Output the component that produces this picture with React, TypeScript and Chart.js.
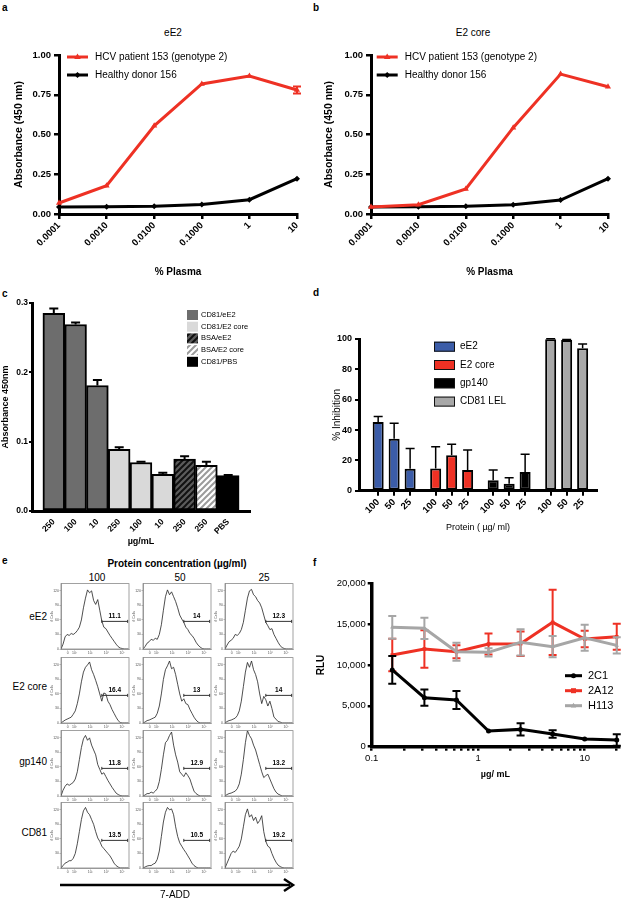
import React, { useEffect, useRef } from 'react';
import { Chart, registerables } from 'chart.js';

Chart.register(...registerables);

const FONT = '"Liberation Sans", Arial, Helvetica, sans-serif';
const RED = '#ee3124';

// ---------- panels a / b ----------
const plasmaLabels = ['0.0001', '0.0010', '0.0100', '0.1000', '1', '10'];
const abSeries = ['HCV patient 153 (genotype 2)', 'Healthy donor 156'];
const aPatient = [0.069, 0.178, 0.555, 0.818, 0.868, 0.78];
const aPatientErr = [0, 0, 0, 0, 0, 0.022];
const aDonor = [0.044, 0.045, 0.048, 0.06, 0.09, 0.222];
const bPatient = [0.044, 0.058, 0.157, 0.543, 0.88, 0.8];
const bPatientErr = [0, 0, 0, 0, 0, 0];
const bDonor = [0.044, 0.045, 0.048, 0.058, 0.088, 0.222];
const abYTicks = [0, 0.25, 0.5, 0.75, 1];

// ---------- panel c ----------
const cSlots = [1, 2, 3, 4, 5, 6, 7, 8, 9];
const cLabels = ['250', '100', '10', '250', '100', '10', '250', '250', 'PBS'];
const cValues = [0.285, 0.269, 0.181, 0.089, 0.07, 0.053, 0.075, 0.066, 0.051];
const cErrors = [0.007, 0.003, 0.008, 0.003, 0.001, 0.002, 0.004, 0.005, 0.001];
const cGroup = [0, 0, 0, 1, 1, 1, 2, 3, 4];
const cLegend = ['CD81/eE2', 'CD81/E2 core', 'BSA/eE2', 'BSA/E2 core', 'CD81/PBS'];
const cYTicks = [0, 0.1, 0.2, 0.3];

// ---------- panel d ----------
const dSlots = [1, 2, 3, 4.6, 5.6, 6.6, 8.2, 9.2, 10.2, 11.8, 12.8, 13.8];
const dLabels = ['100', '50', '25', '100', '50', '25', '100', '50', '25', '100', '50', '25'];
const dValues = [45.3, 34.2, 14.5, 14.7, 23.4, 13.6, 6.9, 4.5, 12.3, 99.9, 99.3, 93.9];
const dErrors = [3.6, 10.3, 13.3, 14.2, 7.3, 13.3, 6.7, 4.0, 11.7, 0.3, 0.4, 2.8];
const dGroup = [0, 0, 0, 1, 1, 1, 2, 2, 2, 3, 3, 3];
const dLegend = ['eE2', 'E2 core', 'gp140', 'CD81 LEL'];
const dYTicks = [0, 20, 40, 60, 80, 100];

// ---------- panel e ----------
const eColumns = ['100', '50', '25'];
const eRows = ['eE2', 'E2 core', 'gp140', 'CD81'];
const eGateValues = [
  ['11.1', '14', '12.3'],
  ['16.4', '13', '14'],
  ['11.8', '12.9', '13.2'],
  ['13.5', '10.5', '19.2'],
];
const histBins = [0, 3, 6, 9, 12, 15, 18, 21, 24, 27, 30, 33, 36, 39, 42, 45, 48, 51, 54, 57, 60, 63, 66, 69, 72, 75, 78, 81, 84, 87, 90, 93, 96, 99];
const hEE2_100 = [0, 10, 25, 30, 28, 32, 30, 33, 38, 45, 60, 85, 105, 122, 116, 120, 100, 92, 102, 80, 58, 45, 42, 35, 28, 22, 16, 10, 5, 2, 1, 0, 0, 0];
const hEE2_50 = [0, 5, 12, 15, 20, 18, 22, 20, 30, 50, 80, 108, 122, 112, 118, 108, 98, 85, 70, 62, 55, 45, 40, 32, 28, 22, 14, 8, 4, 1, 0, 0, 0, 0];
const hEE2_25 = [0, 8, 15, 18, 22, 30, 28, 32, 40, 55, 80, 105, 120, 123, 112, 108, 100, 95, 85, 70, 55, 48, 40, 42, 30, 22, 14, 7, 3, 1, 0, 0, 0, 0];
const hCore_100 = [0, 3, 6, 8, 10, 12, 18, 25, 40, 60, 85, 105, 115, 120, 126, 110, 100, 88, 75, 60, 45, 62, 60, 45, 38, 28, 20, 12, 5, 1, 0, 0, 0, 0];
const hCore_50 = [0, 2, 5, 6, 8, 10, 12, 20, 35, 60, 90, 110, 118, 128, 112, 115, 100, 80, 60, 45, 50, 40, 38, 28, 20, 12, 6, 2, 0, 0, 0, 0, 0, 0];
const hCore_25 = [0, 3, 5, 6, 8, 10, 15, 25, 45, 75, 105, 125, 115, 128, 110, 100, 85, 60, 40, 55, 48, 35, 45, 30, 12, 8, 3, 2, 0, 0, 0, 0, 0, 0];
const hGp_100 = [0, 12, 20, 25, 22, 25, 28, 35, 50, 75, 100, 118, 125, 115, 120, 105, 95, 85, 65, 55, 45, 48, 40, 32, 25, 18, 12, 6, 3, 1, 0, 0, 0, 0];
const hGp_50 = [0, 2, 5, 5, 8, 6, 10, 15, 30, 55, 85, 110, 115, 125, 132, 105, 85, 70, 50, 45, 40, 48, 42, 35, 22, 10, 5, 2, 0, 0, 0, 0, 0, 0];
const hGp_25 = [0, 3, 5, 6, 8, 10, 15, 25, 45, 75, 110, 135, 125, 118, 105, 95, 80, 65, 50, 38, 42, 45, 35, 25, 15, 8, 4, 2, 0, 0, 0, 0, 0, 0];
const hCd_100 = [0, 5, 10, 12, 15, 15, 20, 30, 50, 75, 100, 118, 125, 115, 110, 100, 90, 75, 62, 55, 45, 40, 35, 30, 25, 18, 10, 5, 2, 0, 0, 0, 0, 0];
const hCd_50 = [0, 2, 4, 5, 5, 8, 10, 18, 35, 65, 95, 115, 125, 120, 122, 110, 85, 65, 52, 45, 38, 32, 25, 18, 10, 5, 2, 0, 0, 0, 0, 0, 0, 0];
const hCd_25 = [0, 10, 20, 30, 35, 32, 38, 45, 60, 85, 110, 122, 105, 110, 98, 105, 92, 98, 108, 75, 55, 45, 42, 30, 20, 12, 6, 3, 1, 0, 0, 0, 0, 0];
const eHistograms = [
  [hEE2_100, hEE2_50, hEE2_25],
  [hCore_100, hCore_50, hCore_25],
  [hGp_100, hGp_50, hGp_25],
  [hCd_100, hCd_50, hCd_25],
];
const cellYTicks = [0, 30, 60, 90, 120];
const cellXTicks = [10, 20, 43, 67, 90];
const cellXLabels = ['0', '10²', '10³', '10⁴', '10⁵'];
const gateRange = [60, 98];
const gateLevel = 57;

// ---------- panel f ----------
const fConc = [0.156, 0.3125, 0.625, 1.25, 2.5, 5, 10, 20];
const f2C1 = [9400, 6000, 5720, 1920, 2120, 1550, 940, 810];
const f2C1Err = [1700, 1000, 1100, 0, 750, 450, 0, 700];
const f2A12 = [11220, 11960, 11630, 12570, 12600, 15220, 13180, 13460];
const f2A12Err = [2000, 2300, 800, 1300, 1500, 4000, 1000, 1600];
const fH113 = [14610, 14490, 11630, 11550, 12770, 12240, 13340, 12400];
const fH113Err = [1400, 1300, 1100, 500, 1600, 1300, 1600, 1000];
const fSeries = ['2C1', '2A12', 'H113'];
const fYTicks = [0, 5000, 10000, 15000, 20000];
const fXTicks = [0.1, 0.2, 0.3, 0.4, 0.5, 0.6, 0.7, 0.8, 0.9, 1, 2, 3, 4, 5, 6, 7, 8, 9, 10, 20];
const fXLabeled = [0.1, 1, 10];

// ---------- helpers ----------
const font = (size: number, weight: string = 'normal') => ({ family: FONT, size, weight });

function drawMarker(ctx: CanvasRenderingContext2D, kind: string, cx: number, cy: number, r: number, color: string) {
  ctx.save();
  ctx.fillStyle = color;
  ctx.beginPath();
  if (kind === 'triangle') {
    ctx.moveTo(cx, cy - r * 1.2);
    ctx.lineTo(cx + r * 1.1, cy + r * 0.7);
    ctx.lineTo(cx - r * 1.1, cy + r * 0.7);
  } else if (kind === 'rectRot') {
    ctx.moveTo(cx, cy - r);
    ctx.lineTo(cx + r, cy);
    ctx.lineTo(cx, cy + r);
    ctx.lineTo(cx - r, cy);
  } else if (kind === 'rect') {
    ctx.rect(cx - r, cy - r, 2 * r, 2 * r);
  } else {
    ctx.arc(cx, cy, r, 0, Math.PI * 2);
  }
  ctx.closePath();
  ctx.fill();
  ctx.restore();
}

function hatch(bg: string, fg: string, lw: number): CanvasPattern | string {
  const c = document.createElement('canvas');
  c.width = 6;
  c.height = 6;
  const x = c.getContext('2d');
  if (!x) return bg;
  x.fillStyle = bg;
  x.fillRect(0, 0, 6, 6);
  x.strokeStyle = fg;
  x.lineWidth = lw;
  x.beginPath();
  x.moveTo(0, 6); x.lineTo(6, 0);
  x.moveTo(-3, 3); x.lineTo(3, -3);
  x.moveTo(3, 9); x.lineTo(9, 3);
  x.stroke();
  return x.createPattern(c, 'repeat') || bg;
}

type ErrSet = { dataset: number; errors: number[]; color: string; width: number; cap: number; both: boolean };

function makeErr(sets: ErrSet[]) {
  return {
    id: 'errbars',
    afterDatasetDraw(chart: any, args: any) {
      const set = sets.find((s) => s.dataset === args.index);
      if (!set) return;
      const meta = args.meta;
      const ys = chart.scales[meta.yAxisID];
      const ctx: CanvasRenderingContext2D = chart.ctx;
      ctx.save();
      ctx.strokeStyle = set.color;
      ctx.lineWidth = set.width;
      meta.data.forEach((el: any, i: number) => {
        const e = set.errors[i];
        if (!e) return;
        const raw = chart.data.datasets[args.index].data[i];
        const v = typeof raw === 'number' ? raw : raw.y;
        const x = el.x;
        const yTop = ys.getPixelForValue(v + e);
        const yBot = set.both ? ys.getPixelForValue(v - e) : ys.getPixelForValue(v);
        const hw = set.cap / 2;
        ctx.beginPath();
        ctx.moveTo(x, yBot);
        ctx.lineTo(x, yTop);
        ctx.moveTo(x - hw, yTop);
        ctx.lineTo(x + hw, yTop);
        if (set.both) {
          ctx.moveTo(x - hw, yBot);
          ctx.lineTo(x + hw, yBot);
        }
        ctx.stroke();
      });
      ctx.restore();
    },
  };
}

type KeyOpts = {
  labels: string[];
  fills: any[];
  kind: 'line' | 'box';
  markers?: string[];
  x: number;
  y: number;
  gap: number;
  w: number;
  h: number;
  textX: number;
  fontSize: number;
  lineWidth?: number;
  markerSize?: number;
  stroke?: string;
};

function makeKey(o: KeyOpts) {
  return {
    id: 'inkey',
    afterDraw(chart: any) {
      const ctx: CanvasRenderingContext2D = chart.ctx;
      ctx.save();
      o.labels.forEach((label, i) => {
        const y = o.y + i * o.gap;
        const fill = o.fills[i];
        if (o.kind === 'line') {
          ctx.strokeStyle = fill;
          ctx.lineWidth = o.lineWidth || 3;
          ctx.beginPath();
          ctx.moveTo(o.x, y);
          ctx.lineTo(o.x + o.w, y);
          ctx.stroke();
          drawMarker(ctx, (o.markers || [])[i] || 'circle', o.x + o.w / 2, y, o.markerSize || 3, fill);
        } else {
          ctx.fillStyle = fill;
          ctx.fillRect(o.x, y - o.h / 2, o.w, o.h);
          if (o.stroke) {
            ctx.strokeStyle = o.stroke;
            ctx.lineWidth = 1;
            ctx.strokeRect(o.x + 0.5, y - o.h / 2 + 0.5, o.w - 1, o.h - 1);
          }
        }
        ctx.fillStyle = '#000';
        ctx.font = `${o.fontSize}px ${FONT}`;
        ctx.textBaseline = 'middle';
        ctx.textAlign = 'left';
        ctx.fillText(label, o.textX, y);
      });
      ctx.restore();
    },
  };
}

function makeCellDeco(label: string) {
  return {
    id: 'celldeco',
    afterDraw(chart: any) {
      const ctx: CanvasRenderingContext2D = chart.ctx;
      const a = chart.chartArea;
      const xs = chart.scales.x;
      const ys = chart.scales.y;
      ctx.save();
      ctx.strokeStyle = '#8a8a8a';
      ctx.lineWidth = 0.8;
      ctx.strokeRect(a.left, a.top, a.right - a.left, a.bottom - a.top);
      const x0 = xs.getPixelForValue(gateRange[0]);
      const x1 = xs.getPixelForValue(gateRange[1]);
      const y = ys.getPixelForValue(gateLevel);
      ctx.strokeStyle = '#333';
      ctx.lineWidth = 1;
      ctx.beginPath();
      ctx.moveTo(x0, y);
      ctx.lineTo(x1, y);
      ctx.moveTo(x0, y - 1.5);
      ctx.lineTo(x0, y + 1.5);
      ctx.moveTo(x1, y - 1.5);
      ctx.lineTo(x1, y + 1.5);
      ctx.stroke();
      ctx.fillStyle = '#000';
      ctx.font = `bold 6.5px ${FONT}`;
      ctx.textAlign = 'center';
      ctx.textBaseline = 'bottom';
      ctx.fillText(label, (x0 + x1) / 2, y - 2);
      ctx.restore();
    },
  };
}

const tickGrid = (len: number, w: number) => ({
  display: true,
  drawOnChartArea: false,
  drawTicks: true,
  tickLength: len,
  color: '#000',
  lineWidth: w,
  offset: false,
});
const axisBorder = (w: number) => ({ display: true, color: '#000', width: w });
const basePlugins = { legend: { display: false }, tooltip: { enabled: false } };

function abConfig(patient: number[], patientErr: number[], donor: number[], yWidth: number, rightPad: number, keyX: number) {
  return {
    type: 'line',
    data: {
      labels: plasmaLabels,
      datasets: [
        { label: abSeries[0], data: patient, borderColor: RED, backgroundColor: RED, borderWidth: 3, pointStyle: 'triangle', pointRadius: 3.5, pointBorderWidth: 0, clip: false },
        { label: abSeries[1], data: donor, borderColor: '#000', backgroundColor: '#000', borderWidth: 3, pointStyle: 'rectRot', pointRadius: 3, pointBorderWidth: 0, clip: false },
      ],
    },
    options: {
      responsive: false,
      animation: false,
      events: [],
      layout: { padding: { left: 0, top: 35, right: rightPad, bottom: 0 } },
      scales: {
        x: {
          type: 'category',
          offset: false,
          border: axisBorder(3),
          grid: tickGrid(5, 2.5),
          ticks: { font: font(9.5, 'bold'), color: '#000', minRotation: 45, maxRotation: 45, padding: 1, autoSkip: false },
          title: { display: true, text: '% Plasma', font: font(10, 'bold'), color: '#000', padding: { top: 0, bottom: 17 } },
          afterFit: (s: any) => { s.height = 81; },
        },
        y: {
          min: 0,
          max: 1,
          afterBuildTicks: (s: any) => { s.ticks = abYTicks.map((v) => ({ value: v })); },
          border: axisBorder(3),
          grid: tickGrid(5, 2.5),
          ticks: { font: font(9.5, 'bold'), color: '#000', padding: 3, callback: (v: any) => Number(v).toFixed(2) },
          title: { display: true, text: 'Absorbance (450 nm)', font: font(10.5, 'bold'), color: '#000', padding: { top: 13, bottom: 0 } },
          afterFit: (s: any) => { s.width = yWidth; },
        },
      },
      plugins: basePlugins,
    },
    plugins: [
      makeErr([{ dataset: 0, errors: patientErr, color: RED, width: 2, cap: 8, both: true }]),
      makeKey({ labels: abSeries, fills: [RED, '#000'], kind: 'line', markers: ['triangle', 'rectRot'], x: keyX, y: 37, gap: 18, w: 21, h: 0, textX: keyX + 28, fontSize: 10, lineWidth: 3, markerSize: 3 }),
    ],
  };
}

function cConfig() {
  const fills = ['#6d6d6d', '#d9d9d9', hatch('#5c5c5c', '#111', 2), hatch('#ffffff', '#9b9b9b', 2), '#000'];
  return {
    type: 'bar',
    data: {
      datasets: [
        {
          data: cSlots.map((x, i) => ({ x, y: cValues[i] })),
          backgroundColor: cGroup.map((g) => fills[g]),
          borderColor: '#000',
          borderWidth: 2,
          borderSkipped: false,
          categoryPercentage: 1,
          barPercentage: 1,
        },
      ],
    },
    options: {
      responsive: false,
      animation: false,
      events: [],
      layout: { padding: { left: 0, top: 8, right: 60, bottom: 0 } },
      scales: {
        x: {
          type: 'linear',
          offset: false,
          min: 0,
          max: 10,
          afterBuildTicks: (s: any) => { s.ticks = cSlots.map((v) => ({ value: v })); },
          border: axisBorder(3),
          grid: { display: false, drawTicks: false, offset: false },
          ticks: { autoSkip: false, minRotation: 45, maxRotation: 45, padding: 6, font: font(8.5, 'bold'), color: '#000', callback: (_v: any, i: number) => cLabels[i] },
          title: { display: true, text: 'µg/mL', font: font(9, 'bold'), color: '#000', padding: { top: 0, bottom: 7.6 } },
          afterFit: (s: any) => { s.height = 44; },
        },
        y: {
          min: 0,
          max: 0.3,
          afterBuildTicks: (s: any) => { s.ticks = cYTicks.map((v) => ({ value: v })); },
          border: axisBorder(3),
          grid: tickGrid(3, 2),
          ticks: { font: font(8.5, 'bold'), color: '#000', padding: 1, callback: (v: any) => Number(v).toFixed(1) },
          title: { display: true, text: 'Absorbance 450nm', font: font(9, 'bold'), color: '#000', padding: { top: 0.6, bottom: 0 } },
          afterFit: (s: any) => { s.width = 32; },
        },
      },
      plugins: basePlugins,
    },
    plugins: [
      makeErr([{ dataset: 0, errors: cErrors, color: '#000', width: 2, cap: 9, both: false }]),
      makeKey({ labels: cLegend, fills, kind: 'box', x: 187, y: 20, gap: 11.7, w: 11, h: 10, textX: 201, fontSize: 7.5 }),
    ],
  };
}

function dConfig() {
  const fills = ['#3b5ca8', RED, '#000000', '#a8a8a8'];
  return {
    type: 'bar',
    data: {
      datasets: [
        {
          data: dSlots.map((x, i) => ({ x, y: dValues[i] })),
          backgroundColor: dGroup.map((g) => fills[g]),
          borderColor: '#000',
          borderWidth: 2,
          borderSkipped: false,
          categoryPercentage: 1,
          barPercentage: 0.69,
        },
      ],
    },
    options: {
      responsive: false,
      animation: false,
      events: [],
      layout: { padding: { left: 0, top: 44, right: 26, bottom: 0 } },
      scales: {
        x: {
          type: 'linear',
          offset: false,
          min: -0.2,
          max: 14.7,
          afterBuildTicks: (s: any) => { s.ticks = dSlots.map((v) => ({ value: v })); },
          border: axisBorder(3),
          grid: tickGrid(5, 2),
          ticks: { autoSkip: false, minRotation: 45, maxRotation: 45, padding: 1, font: font(9.5, 'bold'), color: '#000', callback: (_v: any, i: number) => dLabels[i] },
          title: { display: true, text: 'Protein ( µg/ ml)', font: font(9), color: '#000', padding: { top: 0, bottom: 11.6 } },
          afterFit: (s: any) => { s.height = 54.3; },
        },
        y: {
          min: 0,
          max: 100,
          afterBuildTicks: (s: any) => { s.ticks = dYTicks.map((v) => ({ value: v })); },
          border: axisBorder(3),
          grid: tickGrid(4, 2),
          ticks: { font: font(9, 'bold'), color: '#000', padding: 3 },
          title: { display: true, text: '% Inhibition', font: font(10), color: '#000', padding: { top: 21, bottom: 0 } },
          afterFit: (s: any) => { s.width = 49; },
        },
      },
      plugins: basePlugins,
    },
    plugins: [
      makeErr([{ dataset: 0, errors: dErrors, color: '#000', width: 1.5, cap: 9, both: false }]),
      makeKey({ labels: dLegend, fills, kind: 'box', x: 124, y: 51.7, gap: 18.3, w: 21, h: 10, textX: 150, fontSize: 10, stroke: '#111' }),
    ],
  };
}

function fConfig() {
  const GRAY = '#a6a6a6';
  const nf = new Intl.NumberFormat('en-US');
  return {
    type: 'line',
    data: {
      datasets: [
        { label: fSeries[0], data: fConc.map((x, i) => ({ x, y: f2C1[i] })), borderColor: '#000', backgroundColor: '#000', borderWidth: 3, pointStyle: 'circle', pointRadius: 2.5, pointBorderWidth: 0, order: 0, clip: false },
        { label: fSeries[1], data: fConc.map((x, i) => ({ x, y: f2A12[i] })), borderColor: RED, backgroundColor: RED, borderWidth: 3, pointStyle: 'rect', pointRadius: 2.5, pointBorderWidth: 0, order: 2, clip: false },
        { label: fSeries[2], data: fConc.map((x, i) => ({ x, y: fH113[i] })), borderColor: GRAY, backgroundColor: GRAY, borderWidth: 3, pointStyle: 'triangle', pointRadius: 2.5, pointBorderWidth: 0, order: 1, clip: false },
      ],
    },
    options: {
      responsive: false,
      animation: false,
      events: [],
      layout: { padding: { left: 0, top: 18.3, right: 3, bottom: 0 } },
      scales: {
        x: {
          type: 'logarithmic',
          min: 0.1,
          max: 21,
          afterBuildTicks: (s: any) => { s.ticks = fXTicks.map((v) => ({ value: v })); },
          border: axisBorder(3.5),
          grid: tickGrid(4, 2.5),
          ticks: { autoSkip: false, maxRotation: 0, minRotation: 0, padding: 2, font: font(9.5), color: '#000', callback: (v: any) => (fXLabeled.includes(Number(v)) ? String(v) : '') },
          title: { display: true, text: 'µg/ mL', font: font(9, 'bold'), color: '#000', padding: { top: 0, bottom: 9.6 } },
          afterFit: (s: any) => { s.height = 43.3; },
        },
        y: {
          min: 0,
          max: 20000,
          afterBuildTicks: (s: any) => { s.ticks = fYTicks.map((v) => ({ value: v })); },
          border: axisBorder(3.5),
          grid: tickGrid(4, 2.5),
          ticks: { font: font(9.5), color: '#000', padding: 2, callback: (v: any) => nf.format(Number(v)) },
          title: { display: true, text: 'RLU', font: font(10, 'bold'), color: '#000', padding: { top: 5.7, bottom: 0 } },
          afterFit: (s: any) => { s.width = 61.7; },
        },
      },
      plugins: basePlugins,
    },
    plugins: [
      makeErr([
        { dataset: 0, errors: f2C1Err, color: '#000', width: 2, cap: 8, both: true },
        { dataset: 1, errors: f2A12Err, color: RED, width: 2, cap: 8, both: true },
        { dataset: 2, errors: fH113Err, color: GRAY, width: 2, cap: 8, both: true },
      ]),
      makeKey({ labels: fSeries, fills: ['#000', RED, GRAY], kind: 'line', markers: ['circle', 'rect', 'triangle'], x: 255, y: 110.7, gap: 15, w: 17, h: 0, textX: 278, fontSize: 11, lineWidth: 3, markerSize: 2.5 }),
    ],
  };
}

function cellConfig(hist: number[], label: string) {
  return {
    type: 'line',
    data: {
      datasets: [
        { data: histBins.map((x, i) => ({ x, y: hist[i] })), borderColor: '#222', borderWidth: 0.8, pointRadius: 0, fill: false, tension: 0 },
      ],
    },
    options: {
      responsive: false,
      animation: false,
      events: [],
      layout: { padding: { left: 0, top: 2, right: 3, bottom: 0 } },
      scales: {
        x: {
          type: 'linear',
          min: 0,
          max: 100,
          afterBuildTicks: (s: any) => { s.ticks = cellXTicks.map((v) => ({ value: v })); },
          border: { display: true, color: '#8a8a8a', width: 0.8 },
          grid: { display: true, drawOnChartArea: false, drawTicks: true, tickLength: 1.5, color: '#777', lineWidth: 0.5 },
          ticks: { autoSkip: false, maxRotation: 0, minRotation: 0, padding: 0.5, font: font(3.5), color: '#555', callback: (_v: any, i: number) => cellXLabels[i] },
          afterFit: (s: any) => { s.height = 10; },
        },
        y: {
          min: 0,
          max: 135,
          afterBuildTicks: (s: any) => { s.ticks = cellYTicks.map((v) => ({ value: v })); },
          border: { display: true, color: '#8a8a8a', width: 0.8 },
          grid: { display: true, drawOnChartArea: false, drawTicks: true, tickLength: 1.5, color: '#777', lineWidth: 0.5 },
          ticks: { font: font(3.5), color: '#555', padding: 0.5 },
          title: { display: true, text: '# Cells', font: font(3.5), color: '#555', padding: { top: 1, bottom: 0 } },
          afterFit: (s: any) => { s.width = 12; },
        },
      },
      plugins: basePlugins,
    },
    plugins: [makeCellDeco(label)],
  };
}

// ---------- components ----------
function Plot({ x, y, w, h, cfg }: { x: number; y: number; w: number; h: number; cfg: () => any }) {
  const ref = useRef<HTMLCanvasElement | null>(null);
  useEffect(() => {
    if (!ref.current) return;
    const chart = new Chart(ref.current, cfg());
    return () => chart.destroy();
  }, []);
  return <canvas ref={ref} width={w} height={h} style={{ position: 'absolute', left: x, top: y, width: w, height: h }} />;
}

function Txt({ x, y, size = 10, bold = false, anchor = 'center', children }: { x: number; y: number; size?: number; bold?: boolean; anchor?: 'center' | 'left' | 'right'; children: React.ReactNode }) {
  const tx = anchor === 'center' ? '-50%' : anchor === 'right' ? '-100%' : '0';
  return (
    <div
      style={{
        position: 'absolute',
        left: x,
        top: y,
        transform: `translate(${tx}, -50%)`,
        fontFamily: FONT,
        fontSize: size,
        fontWeight: bold ? 'bold' : 'normal',
        lineHeight: 1,
        whiteSpace: 'nowrap',
        color: '#000',
      }}
    >
      {children}
    </div>
  );
}

const cellLeft = [61, 143, 225];
const cellTop = [583, 657, 730, 802];
const colLabelX = [97, 180, 264];
const rowLabelY = [617, 687, 762, 833];

export default function App() {
  return (
    <div style={{ position: 'absolute', left: 0, top: 0, width: 623, height: 900, background: '#fff', overflow: 'hidden' }}>
      <Txt x={2} y={8} bold anchor="left">a</Txt>
      <Txt x={313} y={8} bold anchor="left">b</Txt>
      <Txt x={2} y={294} bold anchor="left">c</Txt>
      <Txt x={313} y={293} bold anchor="left">d</Txt>
      <Txt x={2} y={561} bold anchor="left">e</Txt>
      <Txt x={313} y={563} bold anchor="left">f</Txt>

      <Txt x={173} y={33}>eE2</Txt>
      <Txt x={473} y={33}>E2 core</Txt>

      <Plot x={0} y={20} w={310} h={275} cfg={() => abConfig(aPatient, aPatientErr, aDonor, 59, 13, 67)} />
      <Plot x={310} y={20} w={313} h={275} cfg={() => abConfig(bPatient, bPatientErr, bDonor, 61, 15, 66.7)} />
      <Plot x={0} y={295} w={310} h={260} cfg={cConfig} />
      <Plot x={310} y={295} w={313} h={250} cfg={dConfig} />
      <Plot x={310} y={565} w={313} h={225} cfg={fConfig} />

      <Txt x={177} y={564} bold>Protein concentration (µg/ml)</Txt>
      {eColumns.map((c, i) => (
        <Txt key={'col' + i} x={colLabelX[i]} y={578}>{c}</Txt>
      ))}
      {eRows.map((r, i) => (
        <Txt key={'row' + i} x={47} y={rowLabelY[i]} anchor="right">{r}</Txt>
      ))}
      {eRows.map((_r, ri) =>
        eColumns.map((_c, ci) => (
          <Plot
            key={`cell-${ri}-${ci}`}
            x={cellLeft[ci] - 12}
            y={cellTop[ri] - 2}
            w={83}
            h={78}
            cfg={() => cellConfig(eHistograms[ri][ci], eGateValues[ri][ci])}
          />
        ))
      )}
      <svg width={310} height={30} style={{ position: 'absolute', left: 0, top: 870 }}>
        <line x1={60} y1={15} x2={290} y2={15} stroke="#000" strokeWidth={2.5} />
        <polyline points="284,9 293,15 284,21" fill="none" stroke="#000" strokeWidth={2.5} />
      </svg>
      <Txt x={175} y={895}>7-ADD</Txt>
    </div>
  );
}
